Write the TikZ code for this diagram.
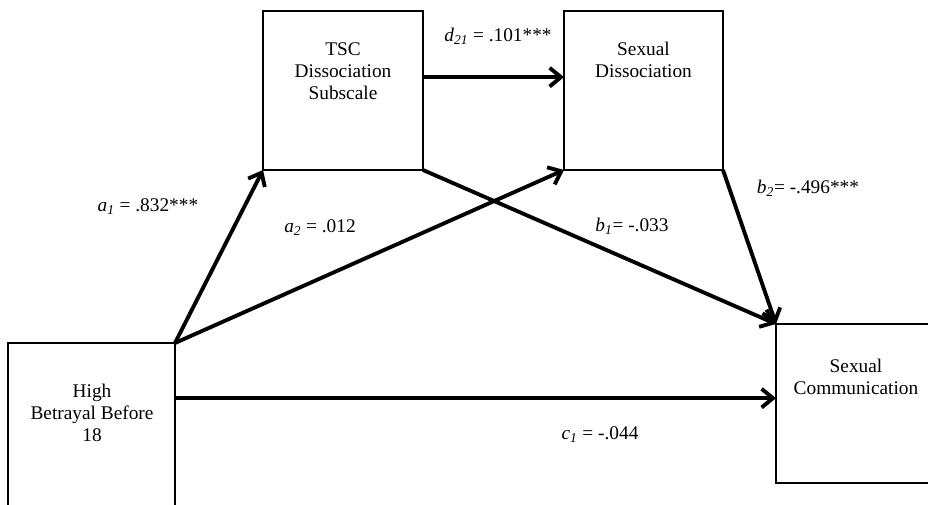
\documentclass[tikz,border=0pt]{standalone}
\usepackage{fontspec}
\setmainfont{Liberation Serif}
\usetikzlibrary{arrows.meta}
\newcommand{\coef}[2]{\textit{#1}\textsubscript{\textit{#2}}}

\begin{document}
\begin{tikzpicture}[x=0.75pt,y=-0.75pt,
  box/.style={draw,line width=1.3pt,outer sep=0pt,inner sep=0pt},
  txt/.style={align=center,font=\fontsize{14.5}{16.5}\selectfont},
  lbl/.style={font=\fontsize{14.5}{16.5}\selectfont},
  arr/.style={line width=2.9pt,-{Straight Barb[length=8.5pt,width=14pt]}}]
\useasboundingbox (0,0) rectangle (928,505);
\clip (0,0) rectangle (928,505);

\node[box,minimum width=120pt,minimum height=119.25pt] (tsc) at (343,90.5) {};
\node[box,minimum width=119.25pt,minimum height=119.25pt] (sd) at (643.5,90.5) {};
\node[box,minimum width=125.25pt,minimum height=132.75pt] (hb) at (91.5,431.5) {};
\node[box,minimum width=130.5pt,minimum height=119.25pt] (sc) at (863,403.5) {};

\node[txt] (tsctext) at (343,71) {TSC\\Dissociation\\Subscale};
\node[txt] (sdtext) at (643.5,60) {Sexual\\Dissociation};
\node[txt] (hbtext) at (92,413) {High\\Betrayal Before\\18};
\node[txt] (sctext) at (856,377) {Sexual\\Communication};

\coordinate (dstart) at ([yshift=10pt]tsc.east);
\coordinate (cstart) at ([yshift=25pt]hb.east);

\draw[arr] (hb.north east) -- (tsc.south west);
\draw[arr] (hb.north east) -- (sd.south west);
\draw[arr] (dstart) -- (dstart -| sd.west);
\draw[arr] (tsc.south east) -- (sc.north west);
\draw[arr] (sd.south east) -- (sc.north west);
\draw[arr] (cstart) -- (cstart -| sc.west);

\node[lbl] (a1) at (148,207) {\coef{a}{1} = .832***};
\node[lbl] (a2) at (320,228) {\coef{a}{2} = .012};
\node[lbl] (d21) at (498,36) {\coef{d}{21} = .101***};
\node[lbl] (b1) at (632,226) {\coef{b}{1}= -.033};
\node[lbl] (b2) at (808,188) {\coef{b}{2}= -.496***};
\node[lbl] (c1) at (600,435) {\coef{c}{1} = -.044};
\end{tikzpicture}
\end{document}
